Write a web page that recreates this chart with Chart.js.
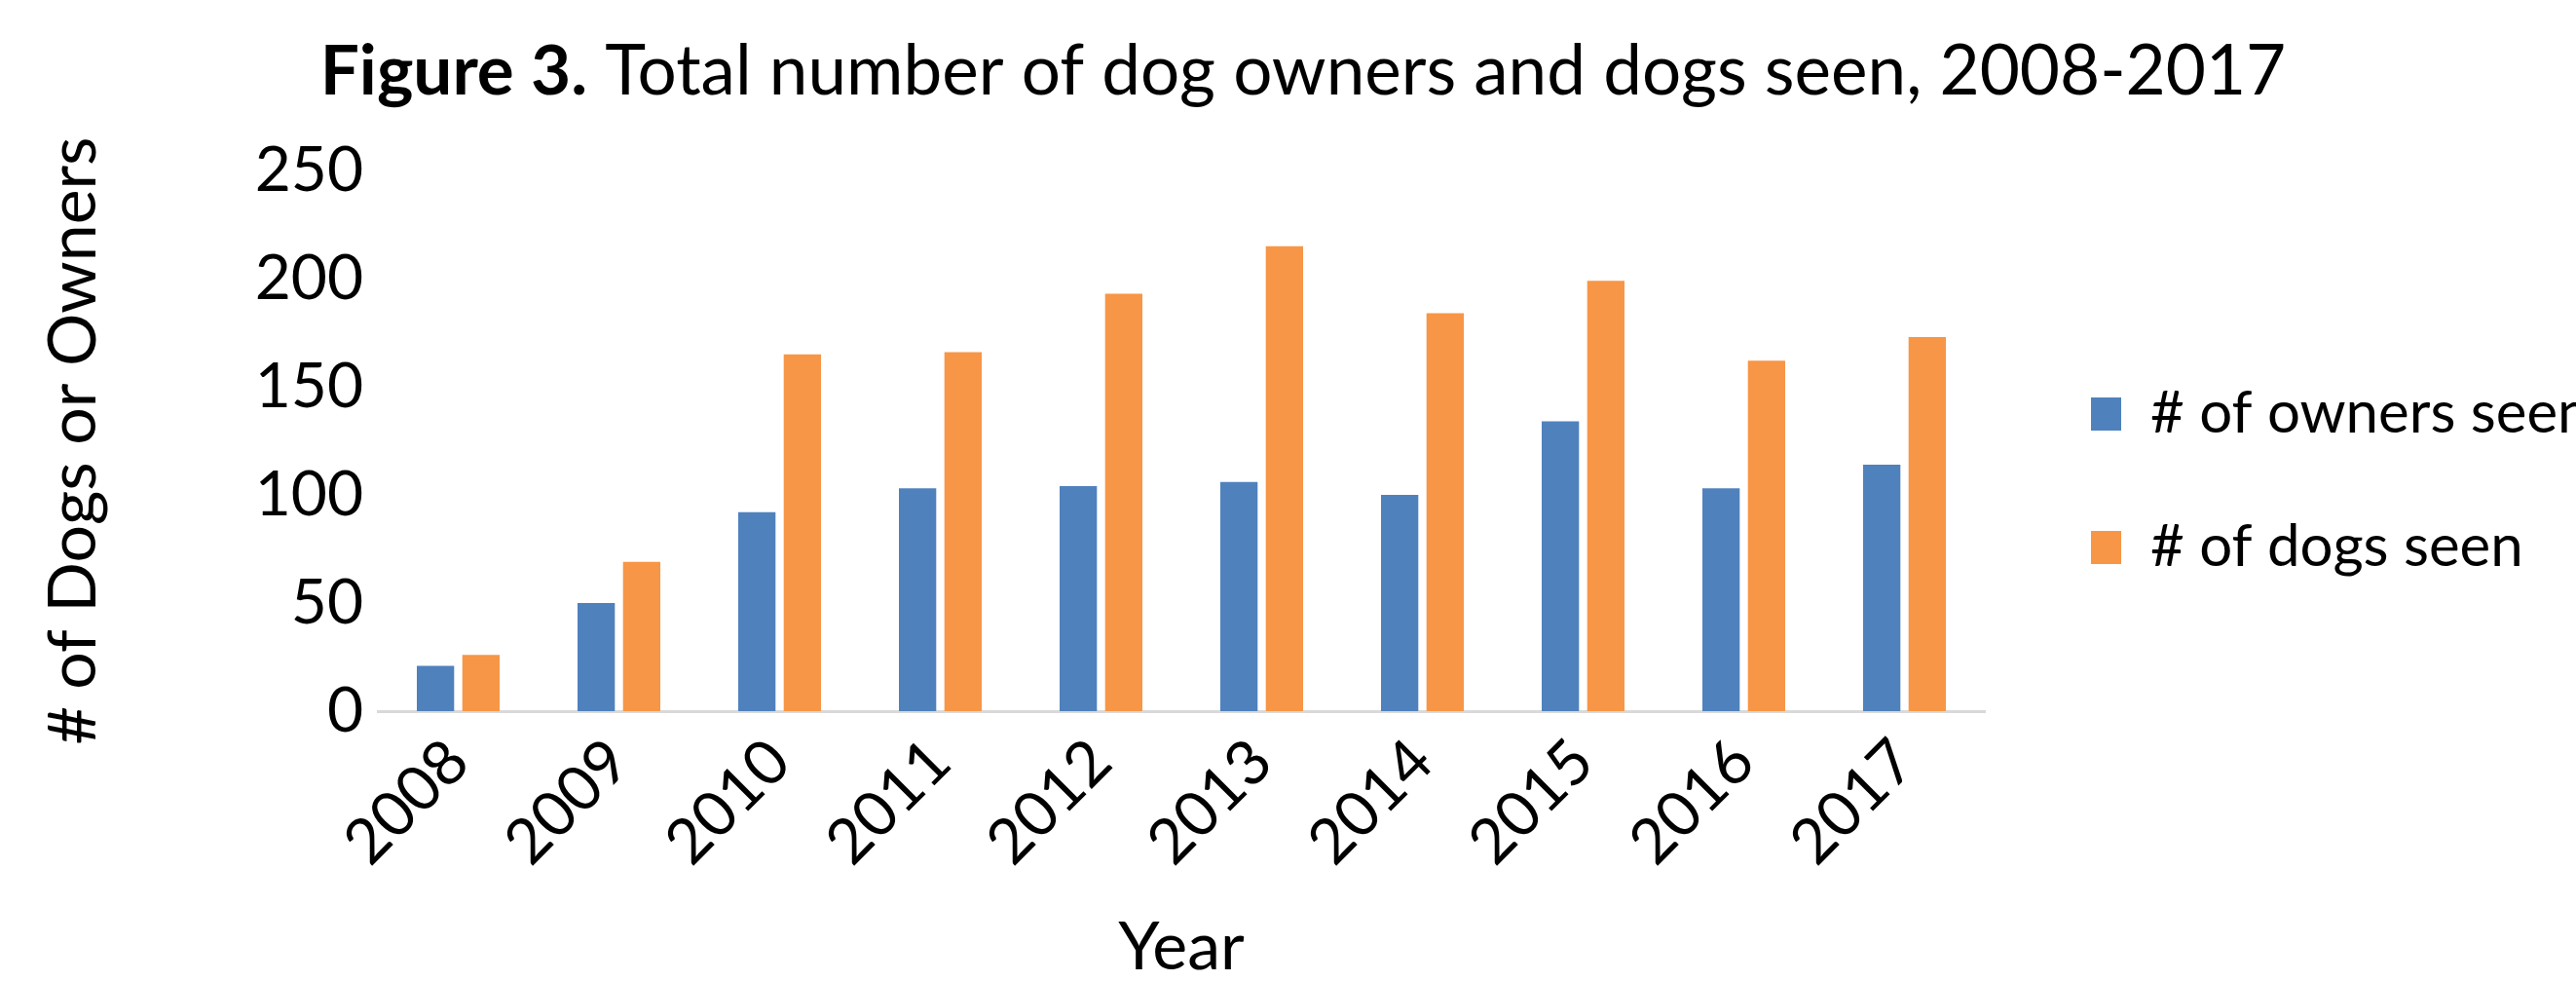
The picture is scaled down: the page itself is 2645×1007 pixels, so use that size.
<!DOCTYPE html>
<html>
<head>
<meta charset="utf-8">
<title>Figure 3</title>
<script src="https://cdn.jsdelivr.net/npm/chart.js@4.4.1/dist/chart.umd.min.js"></script>
<style>
  html, body { margin: 0; padding: 0; background: #ffffff; }
  #wrap { width: 2645px; height: 1007px; }
</style>
</head>
<body>
<div id="wrap"><canvas id="dogs-chart" width="2645" height="1007"></canvas></div>
<script>
// Data
const years = ["2008", "2009", "2010", "2011", "2012", "2013", "2014", "2015", "2016", "2017"];
const ownersSeen = [21, 50, 92, 103, 104, 106, 100, 134, 103, 114];
const dogsSeen = [26, 69, 165, 166, 193, 215, 184, 199, 162, 173];
const yTicks = [0, 50, 100, 150, 200, 250];

const titleBold = "Figure 3.";
const titleRest = " Total number of dog owners and dogs seen, 2008-2017";

const FONT = "Lato";

// Draws the figure caption with a bold prefix
const figureTitle = {
    id: "figureTitle",
    afterDraw(chart) {
        const ctx = chart.ctx;
        ctx.save();
        ctx.fillStyle = "#000000";
        ctx.textBaseline = "alphabetic";
        ctx.textAlign = "left";
        ctx.font = "bold 71px " + FONT;
        const boldW = ctx.measureText(titleBold).width;
        ctx.font = "71px " + FONT;
        const restW = ctx.measureText(titleRest).width;
        let x = 1338 - (boldW + restW) / 2;
        ctx.font = "bold 71px " + FONT;
        ctx.fillText(titleBold, x, 97);
        ctx.font = "71px " + FONT;
        ctx.fillText(titleRest, x + boldW, 97);
        ctx.restore();
    }
};

// Fixed legend width so the text runs to the edge like the original
const legendWidth = 575;
const legendFit = {
    id: "legendFit",
    beforeInit(chart) {
        const legend = chart.legend;
        if (!legend) return;
        const fit = legend.fit;
        legend.fit = function () {
            fit.call(this);
            this.width = legendWidth;
        };
    }
};

const ctx = document.getElementById("dogs-chart").getContext("2d");
new Chart(ctx, {
    type: "bar",
    data: {
        labels: years,
        datasets: [{
            label: "# of owners seen",
            data: ownersSeen,
            backgroundColor: "#4f81bd",
            borderWidth: 0,
            categoryPercentage: 0.566,
            barPercentage: 0.82
        }, {
            label: "# of dogs seen",
            data: dogsSeen,
            backgroundColor: "#f79646",
            borderWidth: 0,
            categoryPercentage: 0.566,
            barPercentage: 0.82
        }]
    },
    options: {
        responsive: false,
        animation: false,
        layout: {
            padding: { top: 175, left: 0, right: 0, bottom: 0 }
        },
        scales: {
            x: {
                grid: { display: false, drawTicks: false },
                border: { display: true, color: "#d9d9d9", width: 3 },
                ticks: {
                    color: "#000000",
                    font: { family: FONT, size: 64 },
                    minRotation: 45,
                    maxRotation: 45,
                    autoSkip: false,
                    padding: 14
                },
                title: {
                    display: true,
                    text: "Year",
                    color: "#000000",
                    font: { family: FONT, size: 68, lineHeight: 1 },
                    padding: { top: 0, bottom: 0 }
                },
                afterFit(scale) { scale.height = 277; }
            },
            y: {
                min: yTicks[0],
                max: yTicks[yTicks.length - 1],
                grid: { display: false, drawTicks: false },
                border: { display: false },
                ticks: {
                    stepSize: yTicks[1] - yTicks[0],
                    color: "#000000",
                    font: { family: FONT, size: 64 },
                    padding: 15
                },
                title: {
                    display: true,
                    text: "# of Dogs or Owners",
                    color: "#000000",
                    font: { family: FONT, size: 68, lineHeight: 1 },
                    padding: { top: 42, bottom: 0 }
                },
                afterFit(scale) { scale.width = 388; }
            },
            // spacer between plot area and legend
            gap: {
                position: "right",
                display: true,
                grid: { display: false },
                border: { display: false },
                ticks: { display: false },
                afterFit(scale) { scale.width = 32; }
            }
        },
        plugins: {
            legend: {
                position: "right",
                fullSize: false,
                title: {
                    display: true,
                    text: " ",
                    font: { size: 10 },
                    padding: { top: 0, bottom: 70 }
                },
                labels: {
                    color: "#000000",
                    font: { family: FONT, size: 60 },
                    boxWidth: 31,
                    boxHeight: 34,
                    padding: 77
                }
            },
            tooltip: { enabled: false }
        }
    },
    plugins: [legendFit, figureTitle]
});
</script>
</body>
</html>
